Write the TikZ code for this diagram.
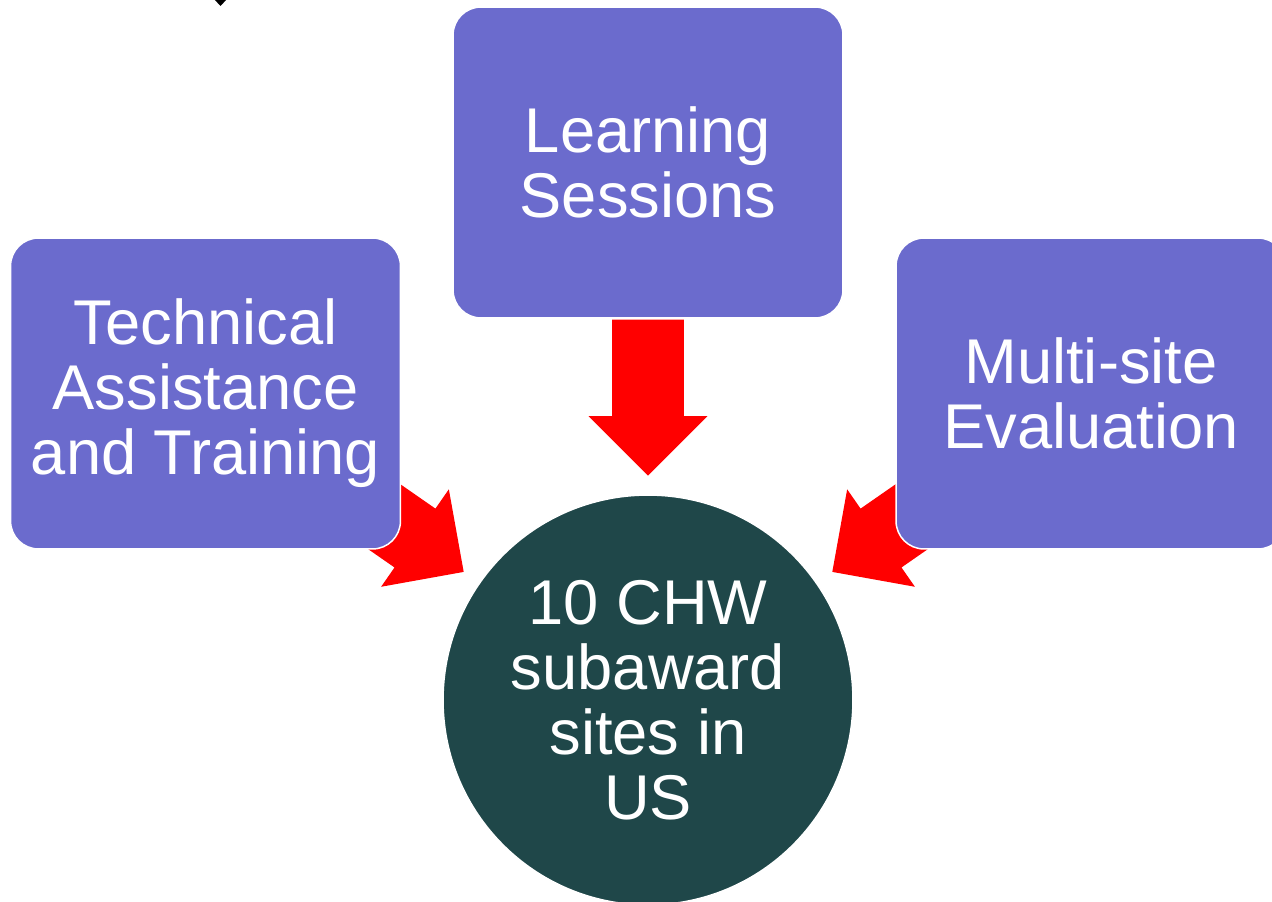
\documentclass[tikz,border=0pt]{standalone}
\usepackage{fontspec}
\setmainfont{Liberation Sans}
\usetikzlibrary{shapes.arrows}
\usetikzlibrary{backgrounds}
\usetikzlibrary{calc}

\definecolor{boxblue}{RGB}{107,107,205}
\definecolor{hubteal}{RGB}{31,71,73}

\tikzset{
    stage/.style={rectangle, rounded corners=0.56cm, fill=boxblue, draw=white, line width=0.85pt,
        minimum width=7.8cm, minimum height=6.22cm, inner sep=0pt, align=center, text=white,
        font=\fontsize{36}{37}\selectfont},
    hub/.style={circle, fill=hubteal, draw=white, line width=0.85pt, minimum size=8.2cm,
        inner sep=0pt, align=center, text=white, font=\fontsize{36}{37}\selectfont},
    feed/.style={single arrow, fill=red, draw=none, inner xsep=0pt, inner ysep=0.71cm, anchor=tip,
        minimum height=3.12cm, single arrow head extend=0.47cm}
}

\begin{document}
\begin{tikzpicture}[x=0.02cm, y=-0.02cm]
    \useasboundingbox (0, 0) rectangle (1272, 902); % page size
    \fill (214, -1) -- (227, -1) -- (220.5, 6) -- cycle;

    \node[stage] (assist) at (205.5, 393.5) {Technical\\Assistance\\and Training};
    \node[stage] (learn) at (648, 162.5) {Learning\\Sessions};
    \node[stage] (evalu) at (1091, 393.5) {Multi-site\\Evaluation};
    \node[hub] (sites) at (648, 700) {10 CHW\\subaward\\sites in\\US};

    % arrows go under the boxes
    \begin{pgfonlayer}{background}
        \node[feed, rotate=-90] (learnfeed) at ($(sites)+(90:4.48cm)$) {};
        \node[feed, rotate=-34.8] (assistfeed) at ($(sites)+(145.2:4.48cm)$) {};
        \node[feed, rotate=-145.2] (evalufeed) at ($(sites)+(34.8:4.48cm)$) {};
    \end{pgfonlayer}
\end{tikzpicture}
\end{document}
